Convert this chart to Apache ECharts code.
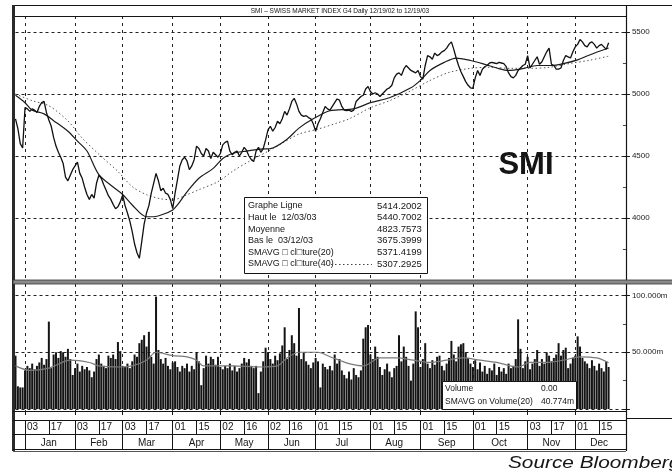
<!DOCTYPE html>
<html><head><meta charset="utf-8">
<script src="https://cdn.jsdelivr.net/npm/echarts@6/dist/echarts.min.js"></script>
<style>html,body{margin:0;padding:0;background:#fff}#c{width:672px;height:471px}</style>
</head><body><div id="c"></div>
<script>
// ---------- calendar / tick labels ----------
const FIRST_DAY = [2002, 11, 20];           // 20 Dec 2002 (UTC y, m0, d)
const N_SLOTS = 256;                        // trading-day slots on the axis
const HOLIDAYS = ['2002-12-24','2002-12-25','2002-12-26','2002-12-31','2003-01-01','2003-01-02',
  '2003-04-18','2003-04-21','2003-05-01','2003-05-29','2003-06-09','2003-12-24','2003-12-25',
  '2003-12-26','2003-12-31','2004-01-01','2004-01-02'];
const DAY_TICKS = ['2003-01-03','2003-01-17','2003-02-03','2003-02-17','2003-03-03','2003-03-17',
  '2003-04-01','2003-04-15','2003-05-02','2003-05-16','2003-06-02','2003-06-16','2003-07-01',
  '2003-07-15','2003-08-01','2003-08-15','2003-09-01','2003-09-15','2003-10-01','2003-10-15',
  '2003-11-03','2003-11-17','2003-12-01','2003-12-15'];
const MONTH_NAMES = ['Jan','Feb','Mar','Apr','May','Jun','Jul','Aug','Sep','Oct','Nov','Dec'];

// ---------- series values ----------
const closePrice = [
4800,4720,4600,4565,4890,4880,4860,4880,4870,4850,
4900,4930,4940,4850,4790,4740,4650,4580,4530,4490,
4440,4330,4300,4345,4390,4420,4450,4360,4320,4250,
4190,4150,4190,4160,4280,4345,4320,4270,4225,4180,
4150,4110,4075,4090,4130,4185,4100,4040,3975,3890,
3790,3720,3675,3810,3950,4040,4100,4200,4280,4360,
4300,4220,4240,4200,4190,4150,4075,4200,4310,4420,
4470,4490,4460,4390,4420,4470,4580,4560,4520,4500,
4560,4540,4480,4530,4510,4490,4520,4590,4610,4620,
4540,4510,4530,4540,4500,4530,4570,4545,4500,4470,
4455,4540,4570,4530,4560,4630,4710,4740,4700,4730,
4780,4760,4800,4860,4830,4880,4940,4965,4920,4860,
4830,4820,4825,4810,4800,4760,4700,4760,4800,4850,
4900,4880,4870,4900,4930,4960,4950,4900,4870,4865,
4870,4860,4870,4940,4960,4980,4990,5040,5060,5020,
5000,5010,5000,4980,5000,5020,5040,5050,5070,5130,
5160,5170,5150,5200,5230,5210,5190,5180,5170,5190,
5140,5120,5230,5310,5300,5280,5330,5310,5320,5340,
5350,5370,5400,5420,5360,5290,5230,5180,5140,5100,
5070,5050,5045,5130,5190,5150,5200,5220,5230,5250,
5255,5250,5245,5255,5250,5245,5220,5170,5140,5130,
5150,5190,5210,5230,5240,5310,5210,5240,5270,5300,
5240,5260,5300,5340,5370,5240,5230,5200,5200,5210,
5270,5310,5300,5290,5340,5380,5400,5440,5420,5390,
5380,5410,5420,5400,5370,5390,5400,5380,5360,5414];

const volumeM = [
47,20,19,19,34,38,36,40,35,38,
41,45,39,44,77,36,48,50,45,51,
50,46,53,44,30,36,40,33,38,35,
37,34,28,33,44,48,40,38,36,47,
45,48,44,59,51,38,37,40,36,42,
48,46,58,61,65,55,68,46,40,99,
52,44,40,45,38,35,41,42,37,33,
38,36,40,33,38,35,50,42,21,36,
47,40,46,44,39,46,37,35,38,36,
40,34,38,33,36,40,45,41,44,38,
36,38,14,33,42,54,50,44,40,47,
43,49,56,72,44,52,65,58,47,89,
44,50,42,39,36,41,45,42,19,40,
37,35,38,34,48,40,44,34,30,27,
33,26,36,30,28,34,62,72,74,48,
44,55,46,37,30,35,40,33,28,36,
38,65,42,55,46,38,25,40,86,72,
37,44,58,40,36,43,39,46,47,38,
34,40,45,60,48,42,55,57,58,50,
45,40,37,43,35,41,33,38,31,36,
34,40,30,37,33,36,31,40,36,38,
44,79,53,36,42,46,35,40,44,52,
38,44,40,50,47,42,45,48,58,47,
52,54,36,40,45,47,64,55,45,42,
40,36,43,38,34,40,36,33,42,37];

const ma20Slot = [0,4,7,12,16,22,26,30,35,41,45,49,55,58,62,66,68,72,77,83,87,91,97,103,108,114,119,125,132,142,149,157,166,170,174,180,185,191,196,202,207,213,219,225,230,236,241,249];
const ma20Val  = [4990,4930,4870,4840,4785,4700,4620,4540,4350,4250,4190,4105,4010,4010,4030,4065,4105,4210,4320,4400,4480,4520,4540,4555,4565,4635,4725,4800,4865,4880,4930,4970,5050,5110,5190,5255,5290,5270,5245,5210,5190,5205,5230,5230,5245,5275,5315,5371];
const ma40Slot = [0,7,14,22,28,35,43,49,55,61,66,72,77,85,91,98,106,112,119,127,135,140,149,157,166,174,182,191,199,208,216,224,233,241,249];
const ma40Val  = [5000,4946,4905,4783,4644,4514,4375,4253,4188,4155,4147,4188,4228,4293,4375,4456,4538,4603,4677,4717,4766,4799,4889,4946,5027,5109,5174,5207,5215,5207,5207,5215,5247,5272,5305];
const volMaSlot = [0,6,14,23,31,35,44,49,55,59,66,72,76,79,91,103,110,114,119,127,132,136,140,146,153,160,167,174,181,188,195,202,211,216,223,230,237,244,249];
const volMaVal  = [38,34,36,43,41,38,37,38,43,50,47,46,43,38,38,37,38,45,50,50,46,43,40,38,45,45,43,41,43,45,43,41,37,41,41,43,46,45,40.8];

const PRICE_LEGEND = [['Graphe Ligne','5414.2002'],['Haut le  12/03/03','5440.7002'],['Moyenne','4823.7573'],
  ['Bas le  03/12/03','3675.3999'],['SMAVG \u25A1 cl\u25A1ture(20)','5371.4199'],['SMAVG \u25A1 cl\u25A1ture(40)','5307.2925']];
const VOLUME_LEGEND = [['Volume','0.00'],['SMAVG on Volume(20)','40.774m']];
const TITLE = 'SMI \u2013 SWISS MARKET INDEX G4 Daily 12/19/02 to 12/19/03';

// ---------- build calendar ----------
const dates = [];
{
  const d = new Date(Date.UTC(FIRST_DAY[0], FIRST_DAY[1], FIRST_DAY[2]));
  while (dates.length < N_SLOTS) {
    const wd = d.getUTCDay(), s = d.toISOString().slice(0, 10);
    if (wd !== 0 && wd !== 6 && HOLIDAYS.indexOf(s) < 0) dates.push(s);
    d.setUTCDate(d.getUTCDate() + 1);
  }
}
const dayTickIdx = new Set(DAY_TICKS.map(s => dates.indexOf(s)));
const monthStartIdx = [];
const seenMonth = {};
DAY_TICKS.forEach(s => { const m = s.slice(0, 7); if (!seenMonth[m]) { seenMonth[m] = 1; monthStartIdx.push(dates.indexOf(s)); } });
const monthStartSet = new Set(monthStartIdx);
const monthMid = {};
monthStartIdx.forEach((st, k) => {
  const en = k + 1 < monthStartIdx.length ? monthStartIdx[k + 1] : N_SLOTS - 1;
  monthMid[Math.floor((st + en) / 2)] = MONTH_NAMES[k];
});

// ---------- layout ----------
const L = 15.5, STEP = 2.382, W = STEP * (N_SLOTS - 1);
const FONT = '"Liberation Sans", Arial, sans-serif';
const INK = '#151515';
const gridDash = { color: '#222', width: 1, type: [3, 3] };
const vDash = { color: '#222', width: 1, type: [3, 4] };

function catAxis(grid, extra) {
  return Object.assign({
    type: 'category', gridIndex: grid, data: dates, boundaryGap: false, position: 'bottom',
    axisLine: { show: false }, axisTick: { show: false }, axisLabel: { show: false }, splitLine: { show: false }
  }, extra);
}

const chart = echarts.init(document.getElementById('c'), null, { renderer: 'canvas' });

const graphics = [];
function gl(x1, y1, x2, y2, w, c, z, dash) {
  graphics.push({ type: 'line', z: z || 50, silent: true, shape: { x1, y1, x2, y2 },
    style: { stroke: c || INK, lineWidth: w || 1, lineDash: dash || null } });
}
function gt(text, x, y, font, align, z, extra) {
  graphics.push(Object.assign({ type: 'text', z: z || 61, silent: true, x, y,
    style: { text, font, fill: INK, align: align || 'left', textAlign: align || 'left',
             verticalAlign: 'middle', textVerticalAlign: 'middle' } }, extra || {}));
}
// frame
gl(13, 5.5, 672, 5.5, 1);
gl(13, 16.5, 626, 16.5, 1);
graphics.push({ type: 'rect', z: 50, silent: true, shape: { x: 12, y: 5, width: 3, height: 446 }, style: { fill: '#2a2a2a' } });
gl(626.5, 5, 626.5, 451, 1.2);
graphics.push({ type: 'rect', z: 50, silent: true, shape: { x: 13, y: 280, width: 660, height: 4 }, style: { fill: '#8a8a8a', stroke: '#333', lineWidth: 0.8 } });
gl(13, 411.5, 626, 411.5, 1);
gl(13, 420.5, 626, 420.5, 1);
gl(13, 434.5, 626, 434.5, 1);
gl(13, 449.5, 626, 449.5, 1.2);
gl(13, 451.5, 626, 451.5, 1, '#555');
gl(626, 418.5, 672, 418.5, 1);
// title
gt(TITLE, 340, 11, '6.5px ' + FONT, 'center', 61);
// SMI
gt('SMI', 526, 165, 'bold 31px ' + FONT, 'center', 61);
// price legend box
graphics.push({ type: 'rect', z: 60, silent: true, shape: { x: 244.5, y: 197.5, width: 183, height: 76 }, style: { fill: '#fff', stroke: INK, lineWidth: 1 } });
PRICE_LEGEND.forEach((r, k) => {
  const y = 206 + k * 11.6;
  gt(r[0], 248, y, '9px ' + FONT, 'left', 61);
  gt(r[1], 377, y, '9.5px ' + FONT, 'left', 61);
});
gl(331, 264.5, 372, 264.5, 1, '#444', 61, [1.5, 2.5]);
// volume legend box
graphics.push({ type: 'rect', z: 60, silent: true, shape: { x: 442.5, y: 381.5, width: 134, height: 28 }, style: { fill: '#fff', stroke: INK, lineWidth: 1 } });
VOLUME_LEGEND.forEach((r, k) => {
  const y = 388.5 + k * 13;
  gt(r[0], 445, y, '8.5px ' + FONT, 'left', 61);
  gt(r[1], 541, y, '8.5px ' + FONT, 'left', 61);
});
// source
gt('Source Bloomberg', 508, 463.5, 'italic 16px ' + FONT, 'left', 61, { scaleX: 1.3 });

const option = {
  animation: false,
  backgroundColor: '#ffffff',
  textStyle: { fontFamily: FONT },
  grid: [
    { left: L, width: W, top: 32, height: 248, outerBoundsMode: 'none', containLabel: false },
    { left: L, width: W, top: 16, height: 264, outerBoundsMode: 'none', containLabel: false },
    { left: L, width: W, top: 295.5, height: 113.5, outerBoundsMode: 'none', containLabel: false },
    { left: L, width: W, top: 284, height: 127, outerBoundsMode: 'none', containLabel: false }
  ],
  xAxis: [
    catAxis(0, {}),
    catAxis(1, { splitLine: { show: true, interval: (i) => monthStartSet.has(i), lineStyle: vDash } }),
    catAxis(2, {}),
    catAxis(3, {
      axisTick: { show: true, interval: (i) => monthStartSet.has(i), length: 4, lineStyle: { color: INK } },
      splitLine: { show: true, interval: (i) => monthStartSet.has(i), lineStyle: vDash }
    }),
    catAxis(3, {
      offset: 9,
      axisTick: { show: true, interval: (i) => dayTickIdx.has(i), length: 14, lineStyle: { color: INK } },
      axisLabel: { show: true, interval: (i) => dayTickIdx.has(i), formatter: (v) => v.slice(8, 10),
        align: 'left', margin: 2, padding: [0, 0, 0, 2], fontSize: 10, color: INK, fontFamily: FONT }
    }),
    catAxis(3, {
      offset: 23,
      axisTick: { show: true, interval: (i) => monthStartSet.has(i), length: 15, lineStyle: { color: INK } },
      axisLabel: { show: true, interval: (i) => monthMid[i] !== undefined, formatter: (v, i) => monthMid[i] || '',
        margin: 4, fontSize: 10, color: INK, fontFamily: FONT }
    })
  ],
  yAxis: [
    { type: 'value', gridIndex: 0, min: 3500, max: 5500, interval: 500, position: 'right',
      axisLine: { show: false },
      axisTick: { show: true, length: 7, lineStyle: { color: INK } },
      minorTick: { show: true, splitNumber: 2, length: 3, lineStyle: { color: '#444' } },
      axisLabel: { margin: 9, fontSize: 8, color: '#222', fontFamily: FONT, formatter: (v) => v === 3500 ? '' : String(v) },
      splitLine: { show: true, lineStyle: gridDash } },
    { type: 'value', gridIndex: 1, min: 0, max: 1, show: false },
    { type: 'value', gridIndex: 2, min: 0, max: 100, interval: 50, position: 'right',
      axisLine: { show: false },
      axisTick: { show: true, length: 7, lineStyle: { color: INK } },
      minorTick: { show: true, splitNumber: 2, length: 3, lineStyle: { color: '#444' } },
      axisLabel: { margin: 9, fontSize: 8, color: '#222', fontFamily: FONT, formatter: (v) => v ? v.toFixed(3) + 'm' : '' },
      splitLine: { show: true, lineStyle: gridDash } },
    { type: 'value', gridIndex: 3, min: 0, max: 1, show: false }
  ],
  series: [
    { name: 'SMAVG(40)', type: 'line', xAxisIndex: 0, yAxisIndex: 0, symbol: 'none', smooth: 0.3, z: 3,
      data: ma40Slot.map((s, k) => [s, ma40Val[k]]), lineStyle: { color: '#555', width: 1, type: [1.5, 2.5] } },
    { name: 'SMAVG(20)', type: 'line', xAxisIndex: 0, yAxisIndex: 0, symbol: 'none', smooth: 0.3, z: 4,
      data: ma20Slot.map((s, k) => [s, ma20Val[k]]), lineStyle: { color: '#1c1c1c', width: 1.2 } },
    { name: 'Close', type: 'line', xAxisIndex: 0, yAxisIndex: 0, symbol: 'none', z: 5,
      data: closePrice, lineStyle: { color: '#111', width: 1.3 } },
    { name: 'Volume', type: 'bar', xAxisIndex: 2, yAxisIndex: 2, barWidth: 2, z: 3,
      data: volumeM, itemStyle: { color: '#141414' } },
    { name: 'SMAVG on Volume(20)', type: 'line', xAxisIndex: 2, yAxisIndex: 2, symbol: 'none', smooth: 0.3, z: 4,
      data: volMaSlot.map((s, k) => [s, volMaVal[k]]), lineStyle: { color: '#7a7a7a', width: 1.2 } }
  ],
  graphic: { elements: graphics }
};
chart.setOption(option);
</script>
</body></html>
